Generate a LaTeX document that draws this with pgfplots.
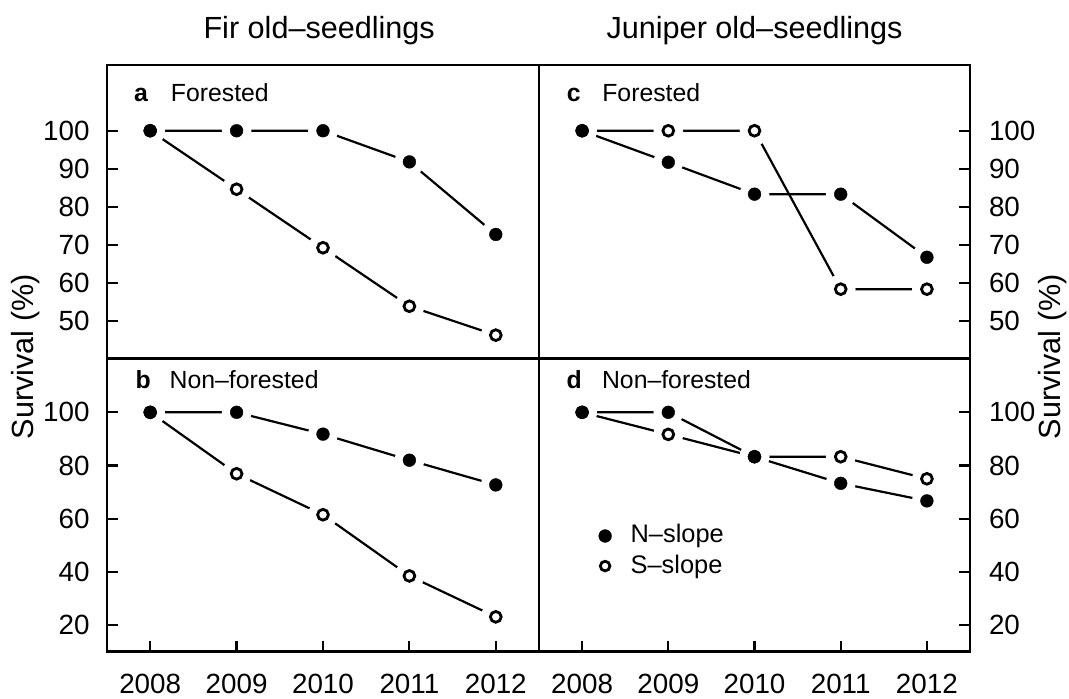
\documentclass[border=0pt]{standalone}
\usepackage{fontspec}
\setmainfont{Liberation Sans}
\usepackage{pgfplots}
\usepackage{pgfplotstable}
\pgfplotsset{compat=1.18}

% Fir, forested (a)
\pgfplotstableread{
year N S
2008 100 100
2009 100 84.6
2010 100 69.2
2011 91.8 53.8
2012 72.7 46.2
}\fira
% Fir, non-forested (b)
\pgfplotstableread{
year N S
2008 100 100
2009 100 76.9
2010 91.8 61.5
2011 82.0 38.5
2012 72.7 23.1
}\firb
% Juniper, forested (c)
\pgfplotstableread{
year N S
2008 100 100
2009 91.7 100
2010 83.3 100
2011 83.3 58.3
2012 66.7 58.3
}\junc
% Juniper, non-forested (d)
\pgfplotstableread{
year N S
2008 100 100
2009 100 91.7
2010 83.3 83.3
2011 73.3 83.3
2012 66.7 75
}\jund

\pgfplotsset{
  panel/.style={
    scale only axis,
    width=216pt, height=146.65pt,
    anchor=north west,
    xmin=2007.5, xmax=2012.5,
    axis line style={line width=1.3pt},
    tick align=inside,
    major tick length=5.5pt,
    every tick/.style={line width=1.1pt, black},
    tick label style={font=\fontsize{13.9}{16}\selectfont},
    /pgf/number format/assume math mode=true,
    /pgf/number format/1000 sep={},
    xtick={2008,2009,2010,2011,2012},
    xtick pos=bottom,
    xticklabel style={anchor=north, inner sep=0pt, yshift=-10.8pt},
  },
  leftpanel/.style={ytick pos=left, yticklabel pos=left,
    yticklabel style={anchor=east, inner sep=0pt, xshift=-8.5pt}},
  rightpanel/.style={ytick pos=right, yticklabel pos=right,
    yticklabel style={anchor=west, inner sep=0pt, xshift=9.3pt}},
  dline/.style={black, line width=1.1pt, mark=none},
  halo/.style={only marks, mark=*, mark size=7.2pt, mark options={draw=white, fill=white}},
  Nmark/.style={only marks, mark=*, mark size=3.2pt, mark options={draw=black, fill=black, line width=0.2pt}},
  Smark/.style={only marks, mark=*, mark size=2.7pt, mark options={draw=black, fill=white, line width=1.4pt}},
}
\tikzset{plabel/.style={anchor=base west, inner sep=0pt, font=\fontsize{12.4}{14}\selectfont}}

\newcommand\panelplots[1]{%
  \addplot[dline] table[x=year,y=N]{#1};
  \addplot[dline] table[x=year,y=S]{#1};
  \addplot[halo] table[x=year,y=N]{#1};
  \addplot[halo] table[x=year,y=S]{#1};
  \addplot[Smark] table[x=year,y=S]{#1};
  \addplot[Nmark] table[x=year,y=N]{#1};
}

\begin{document}
\begin{tikzpicture}
\useasboundingbox (0,0) rectangle (534.5pt,-349pt);

% panel a
\begin{axis}[panel, leftpanel, at={(53.5pt,-32.5pt)},
  ymin=40.1, ymax=117.3, ytick={50,60,70,80,90,100},
  xticklabels={}, xtick=\empty]
\panelplots{\fira}
\node[plabel] at (axis cs:2007.81,107.6) {\textbf{a}};
\node[plabel] at (axis cs:2008.235,107.6) {Forested};
\end{axis}

% panel c
\begin{axis}[panel, rightpanel, at={(269.5pt,-32.5pt)}, width=215.5pt,
  ymin=40.1, ymax=117.3, ytick={50,60,70,80,90,100},
  xticklabels={}, xtick=\empty]
\panelplots{\junc}
\node[plabel] at (axis cs:2007.82,107.6) {\textbf{c}};
\node[plabel] at (axis cs:2008.23,107.6) {Forested};
\end{axis}

% panel b
\begin{axis}[panel, leftpanel, at={(53.5pt,-179.15pt)}, height=146.7pt,
  ymin=10, ymax=120.3, ytick={20,40,60,80,100}]
\panelplots{\firb}
\node[plabel] at (axis cs:2007.826,109) {\textbf{b}};
\node[plabel] at (axis cs:2008.221,109) {Non–forested};
\end{axis}

% panel d
\begin{axis}[panel, rightpanel, at={(269.5pt,-179.15pt)}, width=215.5pt, height=146.7pt,
  ymin=10, ymax=120.3, ytick={20,40,60,80,100}]
\panelplots{\jund}
\node[plabel] at (axis cs:2007.817,109) {\textbf{d}};
\node[plabel] at (axis cs:2008.227,109) {Non–forested};
% legend
\addplot[Nmark] coordinates {(2008.267,53.5)};
\addplot[Smark, mark size=2.4pt] coordinates {(2008.267,42.2)};
\node[anchor=base west, inner sep=0pt, font=\fontsize{12.7}{15}\selectfont] at (axis cs:2008.558,50.9) {N–slope};
\node[anchor=base west, inner sep=0pt, font=\fontsize{12.7}{15}\selectfont] at (axis cs:2008.558,39.5) {S–slope};
\end{axis}

% titles
\node[anchor=base, inner sep=0pt, font=\fontsize{15.3}{18}\selectfont] at (159.6pt,-19.15pt) {Fir old–seedlings};
\node[anchor=base, inner sep=0pt, font=\fontsize{15.3}{18}\selectfont] at (377.3pt,-19.15pt) {Juniper old–seedlings};
% y labels
\node[anchor=base, rotate=90, inner sep=0pt, font=\fontsize{15.3}{18}\selectfont] at (16.5pt,-178.3pt) {Survival (\%)};
\node[anchor=base, rotate=90, inner sep=0pt, font=\fontsize{15.3}{18}\selectfont] at (530pt,-178.3pt) {Survival (\%)};
\end{tikzpicture}
\end{document}
